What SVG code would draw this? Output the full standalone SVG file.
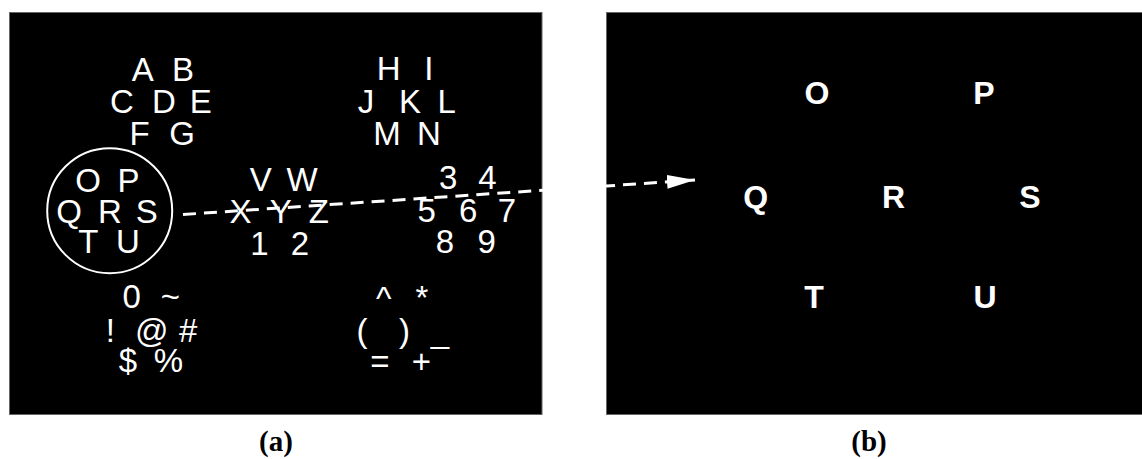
<svg xmlns="http://www.w3.org/2000/svg" width="1142" height="459" viewBox="0 0 1142 459">
<style>
.panel{fill:#000;stroke:#666;stroke-width:1}
.t{font-family:"Liberation Sans",Arial,sans-serif;font-size:33px;fill:#fff;text-anchor:middle}
.b{font-family:"Liberation Sans",Arial,sans-serif;font-size:32px;font-weight:bold;fill:#fff;text-anchor:middle}
.cap{font-family:"Liberation Serif","Times New Roman",serif;font-size:29px;font-weight:bold;fill:#000;text-anchor:middle}
.conn{fill:none;stroke:#fff;stroke-width:3;stroke-dasharray:13 8}
</style>
<defs>
<marker id="arrow" markerUnits="userSpaceOnUse" markerWidth="28" markerHeight="14" viewBox="0 0 28 14" refX="28" refY="7" orient="auto">
<path d="M0,0 L28,7 L0,14 z" fill="#fff"/>
</marker>
</defs>
<rect width="1142" height="459" fill="#fff"/>
<rect id="panel-a" class="panel" x="9.5" y="12.5" width="532.5" height="402"/>
<rect id="panel-b" class="panel" x="606.5" y="12.5" width="540" height="402"/>

<g id="cluster-ABCDEFG">
<text class="t" x="142.8" y="81">A</text>
<text class="t" x="183" y="81">B</text>
<text class="t" x="122" y="113">C</text>
<text class="t" x="164" y="113">D</text>
<text class="t" x="200.7" y="113">E</text>
<text class="t" x="139.5" y="145">F</text>
<text class="t" x="182" y="145">G</text>
</g>
<g id="cluster-HIJKLMN">
<text class="t" x="388.7" y="79.5">H</text>
<text class="t" x="428.8" y="79.5">I</text>
<text class="t" x="366" y="112.7">J</text>
<text class="t" x="410" y="112.7">K</text>
<text class="t" x="446.6" y="112.7">L</text>
<text class="t" x="387" y="145">M</text>
<text class="t" x="428.8" y="145">N</text>
</g>
<g id="cluster-OPQRSTU">
<circle cx="109.7" cy="210.7" r="62.5" fill="none" stroke="#fff" stroke-width="2"/>
<text class="t" x="88" y="191.7">O</text>
<text class="t" x="128.5" y="191.7">P</text>
<text class="t" x="69" y="223">Q</text>
<text class="t" x="110" y="223">R</text>
<text class="t" x="146.7" y="223">S</text>
<text class="t" x="88.3" y="253.3">T</text>
<text class="t" x="128" y="253.3">U</text>
</g>
<g id="cluster-VWXYZ12">
<text class="t" x="260.8" y="190.7">V</text>
<text class="t" x="302" y="190.7">W</text>
<text class="t" x="240.5" y="222.7">X</text>
<text class="t" x="280.8" y="222.7">Y</text>
<text class="t" x="318.8" y="222.7">Z</text>
<text class="t" x="259.5" y="255">1</text>
<text class="t" x="300" y="255">2</text>
</g>
<g id="cluster-3456789">
<text class="t" x="448.3" y="189.3">3</text>
<text class="t" x="487.5" y="189.3">4</text>
<text class="t" x="426.7" y="221.7">5</text>
<text class="t" x="468.3" y="221.7">6</text>
<text class="t" x="507" y="221.7">7</text>
<text class="t" x="445" y="253.3">8</text>
<text class="t" x="486.7" y="253.3">9</text>
</g>
<g id="cluster-symbols-1">
<text class="t" x="131.7" y="308.3">0</text>
<text class="t" x="170.5" y="308.3">~</text>
<text class="t" x="110.3" y="341.7">!</text>
<text class="t" x="151.7" y="341.7">@</text>
<text class="t" x="188.3" y="341.7">#</text>
<text class="t" x="128" y="371.7">$</text>
<text class="t" x="168.3" y="371.7">%</text>
</g>
<g id="cluster-symbols-2">
<text class="t" x="383.8" y="310">^</text>
<text class="t" x="422" y="309">*</text>
<text class="t" x="362" y="341.7">(</text>
<text class="t" x="404.6" y="341.7">)</text>
<text class="t" x="440" y="342">_</text>
<text class="t" x="380" y="373">=</text>
<text class="t" x="421.3" y="373">+</text>
</g>

<g id="cluster-b">
<text class="b" x="817" y="103.5">O</text>
<text class="b" x="984" y="103.5">P</text>
<text class="b" x="755.6" y="208.3">Q</text>
<text class="b" x="893.6" y="208.3">R</text>
<text class="b" x="1029.8" y="208.3">S</text>
<text class="b" x="814" y="308.3">T</text>
<text class="b" x="985" y="308.3">U</text>
</g>

<g id="connectors">
<path class="conn" d="M183,214.5 L695,180" marker-end="url(#arrow)"/>
</g>

<g id="captions">
<text class="cap" x="276" y="451">(a)</text>
<text class="cap" x="869" y="451">(b)</text>
</g>
</svg>
